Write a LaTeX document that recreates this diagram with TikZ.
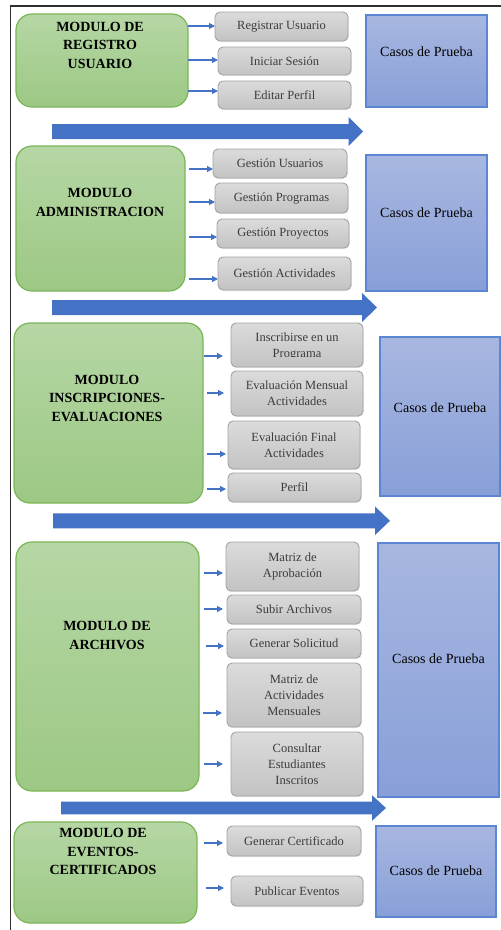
\documentclass[tikz,border=0pt]{standalone}
\usepackage{fontspec}
\setmainfont{Liberation Serif}
\usetikzlibrary{arrows.meta,shadows,calc}

\definecolor{modtop}{HTML}{B6D7A5}
\definecolor{modbot}{HTML}{9CC884}
\definecolor{modborder}{HTML}{7AB656}
\definecolor{tasktop}{HTML}{DBDBDB}
\definecolor{taskbot}{HTML}{C3C3C3}
\definecolor{taskborder}{HTML}{A3A3A3}
\definecolor{tasktext}{HTML}{3C3C3C}
\definecolor{casetop}{HTML}{A8B7E1}
\definecolor{casebot}{HTML}{889FD7}
\definecolor{caseborder}{HTML}{5A86D2}
\definecolor{flowblue}{HTML}{4472C4}
\definecolor{framegray}{HTML}{2E2E2E}

\tikzset{
  module/.style={draw=modborder, line width=1.2bp, rounded corners=16bp,
    top color=modtop, bottom color=modbot, inner sep=0pt, outer sep=0pt},
  modtext/.style={font=\bfseries\fontsize{14bp}{18.5bp}\selectfont,
    align=center, inner sep=0pt},
  task/.style={draw=taskborder, line width=0.9bp, rounded corners=5bp,
    top color=tasktop, bottom color=taskbot,
    drop shadow={opacity=0.18, shadow xshift=0.8bp, shadow yshift=-1bp},
    font=\fontsize{12.5bp}{16bp}\selectfont, text=tasktext, align=center,
    inner sep=1bp, outer sep=0pt},
  tasklabel/.style={font=\fontsize{12.5bp}{16bp}\selectfont, text=tasktext,
    align=center, inner sep=0pt},
  cases/.style={draw=caseborder, line width=1.2bp, top color=casetop,
    bottom color=casebot, inner sep=0pt, outer sep=0pt},
  casetext/.style={font=\fontsize{14bp}{17bp}\selectfont, inner sep=0pt},
  sarrow/.style={draw=flowblue, line width=1.1bp,
    -{Triangle[length=6bp,width=6bp]}},
  bigarrow/.style={fill=flowblue},
  frameline/.style={draw=framegray, line width=1.3bp}
}

% box node from its corners: name, style, x1, y1, x2, y2, text
\newcommand\boxat[7]{%
  \node[#2, minimum width={((#5)-(#3))*1bp}, minimum height={((#6)-(#4))*1bp}]
    (#1) at ({((#3)+(#5))/2},{((#4)+(#6))/2}) {#7};}

% small arrow: start x, start y, target node, gap before the target
\newcommand\feed[4]{%
  \coordinate (#3s) at (#1,#2);
  \draw[sarrow] (#3s) -- ($(#3.west |- #3s)+(-#4,0)$);}

% block arrow between sections: x start, tip x, mid y, shaft half, head half, head length
\newcommand\flowarrow[6]{%
  \fill[bigarrow] (#1,{#3-#4}) -- ({#2-#6},{#3-#4}) -- ({#2-#6},{#3-#5})
    -- (#2,#3) -- ({#2-#6},{#3+#5}) -- ({#2-#6},{#3+#4}) -- (#1,{#3+#4}) -- cycle;}

\begin{document}
\begin{tikzpicture}[x=1bp,y=-1bp]
\useasboundingbox (0,0) rectangle (501,930);

% page frame
\draw[frameline] (10.2,930) -- (10.2,6) -- (501,6);

% ---------- registro de usuario ----------
\boxat{m1}{module}{16}{14}{188}{107}{}
\node[modtext] (m1t) at (100,45.4) {MODULO DE\\REGISTRO\\USUARIO};
\boxat{g11}{task}{215}{12}{348}{41}{Registrar Usuario}
\boxat{g12}{task}{218}{47}{351}{75}{Iniciar Sesión}
\boxat{g13}{task}{218}{81}{351}{109}{Editar Perfil}
\feed{188}{26}{g11}{0}
\feed{188}{60}{g12}{0}
\feed{188}{91}{g13}{0}
\boxat{c1}{cases}{366}{15}{487}{107}{}
\node[casetext] (c1t) at (426.5,52) {Casos de Prueba};
\flowarrow{52}{363}{131.5}{7.5}{14.7}{14.5}

% ---------- administracion ----------
\boxat{m2}{module}{16}{146}{185}{291}{}
\node[modtext] (m2t) at (100,202.4) {MODULO\\ADMINISTRACION};
\boxat{g21}{task}{213}{149}{347}{178}{Gestión Usuarios}
\boxat{g22}{task}{215}{183}{348}{213}{Gestión Programas}
\boxat{g23}{task}{217}{219}{349}{248}{Gestión Proyectos}
\boxat{g24}{task}{218}{257}{351}{290}{Gestión Actividades}
\feed{189}{169}{g21}{0}
\feed{189}{202}{g22}{0}
\feed{189}{237}{g23}{0}
\feed{189}{279}{g24}{0}
\boxat{c2}{cases}{366}{155}{487}{291}{}
\node[casetext] (c2t) at (426.5,213) {Casos de Prueba};
\flowarrow{52}{377}{307.5}{7.5}{14.5}{15}

% ---------- inscripciones y evaluaciones ----------
\boxat{m3}{module}{14}{323}{203}{503}{}
\node[modtext] (m3t) at (107,398.4) {MODULO\\INSCRIPCIONES-\\EVALUACIONES};
\boxat{g31}{task}{231}{323}{363}{367}{}
\begin{scope}
  \clip (231,323) rectangle (363,356.3);
  \node[tasklabel] (g31t) at (297,347) {Inscribirse en un\\Programa};
\end{scope}
\boxat{g32}{task}{231}{371}{363}{416}{Evaluación Mensual\\Actividades}
\boxat{g33}{task}{228}{421}{360}{469}{Evaluación Final\\Actividades}
\boxat{g34}{task}{228}{473}{361}{502}{Perfil}
\feed{204}{356}{g31}{8}
\feed{207}{393}{g32}{7}
\feed{207}{454}{g33}{2}
\feed{207}{489}{g34}{2}
\boxat{c3}{cases}{380}{337}{500}{496}{}
\node[casetext] (c3t) at (440,408) {Casos de Prueba};
\flowarrow{53}{390}{520.8}{7.5}{14.3}{15}

% ---------- archivos ----------
\boxat{m4}{module}{16}{542}{199}{791}{}
\node[modtext] (m4t) at (107,635.4) {MODULO DE\\ARCHIVOS};
\boxat{g41}{task}{226}{542}{359}{591}{Matriz de\\Aprobación}
\boxat{g42}{task}{227}{595}{361}{624}{Subir Archivos}
\boxat{g43}{task}{227}{629}{361}{658}{Generar Solicitud}
\boxat{g44}{task}{227}{663}{361}{727}{Matriz de\\Actividades\\Mensuales}
\boxat{g45}{task}{231}{732}{363}{796}{Consultar\\Estudiantes\\Inscritos}
\feed{204}{573}{g41}{3}
\feed{204}{609}{g42}{4}
\feed{206}{646}{g43}{3}
\feed{203}{713}{g44}{5}
\feed{204}{764}{g45}{8}
\boxat{c4}{cases}{378}{543}{499}{797}{}
\node[casetext] (c4t) at (438.5,659) {Casos de Prueba};
\flowarrow{61}{386}{808}{6.3}{12.8}{14}

% ---------- eventos y certificados ----------
\boxat{m5}{module}{14}{822}{197}{923}{}
\node[modtext] (m5t) at (103,851.9) {MODULO DE\\EVENTOS-\\CERTIFICADOS};
\boxat{g51}{task}{227}{826}{361}{856}{Generar Certificado}
\boxat{g52}{task}{231}{876}{363}{906}{Publicar Eventos}
\feed{204}{843}{g51}{4}
\feed{206}{888}{g52}{7}
\boxat{c5}{cases}{376}{826}{496}{917}{}
\node[casetext] (c5t) at (436,871) {Casos de Prueba};
\end{tikzpicture}
\end{document}
